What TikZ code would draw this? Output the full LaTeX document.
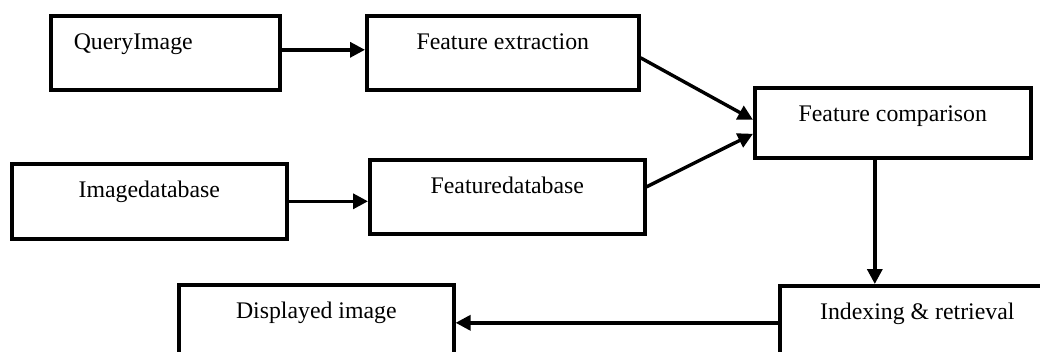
\documentclass[tikz,border=0pt]{standalone}
\usepackage{fontspec}
\setmainfont{Liberation Serif}
\usetikzlibrary{arrows.meta}
\begin{document}
\begin{tikzpicture}[x=1pt,y=-1pt,
  box/.style={draw=black, line width=3.6pt, inner sep=0pt, anchor=north west,
    align=center, text height=34pt, font=\fontsize{23.8}{28}\selectfont},
  arr/.style={line width=3.4pt, -{Triangle[length=15pt,width=15pt]}}]
\clip (0,0) rectangle (1040,351);
\fill[white] (0,0) rectangle (1040,351);
\node[box, text width=183pt, inner xsep=23pt, align=left, text depth=40pt] (q) at (49,14) {QueryImage};
\node[box, minimum width=272pt, text depth=40pt] (fe) at (365,14) {Feature extraction};
\node[box, minimum width=275pt, text depth=41pt] (id) at (10,162) {Imagedatabase};
\node[box, minimum width=275pt, text depth=40pt] (fd) at (368,158) {Featuredatabase};
\node[box, minimum width=276pt, text depth=36pt] (fc) at (753,86) {Feature comparison};
\node[box, minimum width=275pt, text depth=40pt] (di) at (177,283) {Displayed image};
\node[box, minimum width=275pt, text depth=40pt] (ir) at (778,284) {Indexing \& retrieval};
\draw[arr] ([yshift=3pt]q.east) -- ([yshift=3pt]q.east -| fe.west);
\draw[arr] (id.east) -- (id.east -| fd.west);
\draw[arr] ([yshift=-5pt]fe.east) -- ([yshift=3pt]fc.west);
\draw[arr] ([yshift=10pt]fd.east) -- ([yshift=-11pt]fc.west);
\draw[arr] ([xshift=-18pt]fc.south) -- ([xshift=-18pt]fc.south |- ir.north);
\draw[arr] (ir.west) -- (ir.west -| di.east);
\end{tikzpicture}
\end{document}
